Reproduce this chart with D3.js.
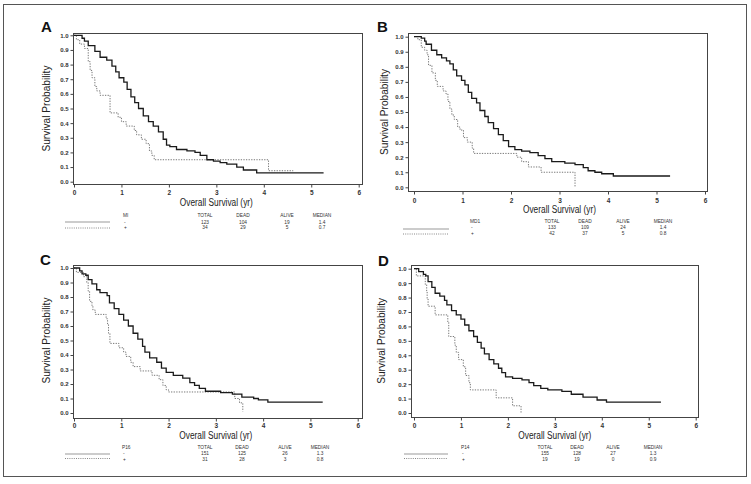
<!DOCTYPE html>
<html><head><meta charset="utf-8">
<script src="https://cdn.jsdelivr.net/npm/d3@7"></script>
<style>
html,body{margin:0;padding:0;background:#fff;}
svg{display:block;font-family:"Liberation Sans",Arial,sans-serif;}
</style></head>
<body><svg id="c" width="751" height="484"></svg>
<script>
// ---- data ----
const panelLetters = ["A","B","C","D"];
const groupLabels = ["MI","MD1","P16","P14"];
const xTicks = [0,1,2,3,4,5,6];
const yTicks = [0,0.1,0.2,0.3,0.4,0.5,0.6,0.7,0.8,0.9,1.0];
const tableHeads = ["TOTAL","DEAD","ALIVE","MEDIAN"];
const rowSigns = ["-","+"];
const statsA = [["123","104","19","1.4"],["34","29","5","0.7"]];
const statsB = [["133","109","24","1.4"],["42","37","5","0.8"]];
const statsC = [["151","125","26","1.3"],["31","28","3","0.8"]];
const statsD = [["155","128","27","1.3"],["19","19","0","0.9"]];
// step drops: [time (yr), survival after drop]
const aNeg = [[0.17,0.98],[0.22,0.96],[0.3,0.93],[0.44,0.89],[0.55,0.85],[0.69,0.83],[0.8,0.79],[0.88,0.75],[0.95,0.71],[1.05,0.68],[1.12,0.63],[1.2,0.58],[1.28,0.54],[1.36,0.50],[1.46,0.45],[1.57,0.41],[1.67,0.38],[1.78,0.34],[1.88,0.29],[1.95,0.25],[2.02,0.24],[2.16,0.22],[2.38,0.21],[2.55,0.20],[2.66,0.18],[2.8,0.15],[2.94,0.14],[3.08,0.13],[3.22,0.12],[3.43,0.10],[3.57,0.08],[3.85,0.06],[5.26,0.06]];
const aPos = [[0.05,0.97],[0.12,0.94],[0.22,0.91],[0.3,0.82],[0.34,0.76],[0.38,0.71],[0.44,0.65],[0.48,0.62],[0.55,0.59],[0.76,0.47],[0.93,0.44],[1.0,0.41],[1.1,0.38],[1.27,0.35],[1.32,0.32],[1.42,0.29],[1.52,0.26],[1.59,0.21],[1.64,0.18],[1.69,0.15],[4.1,0.075],[4.62,0.075]];
const bNeg = [[0.15,0.99],[0.22,0.97],[0.25,0.95],[0.36,0.91],[0.47,0.88],[0.57,0.86],[0.67,0.84],[0.74,0.82],[0.81,0.78],[0.88,0.74],[0.98,0.71],[1.05,0.68],[1.12,0.63],[1.19,0.59],[1.29,0.56],[1.36,0.51],[1.46,0.47],[1.53,0.43],[1.64,0.39],[1.74,0.35],[1.84,0.31],[1.95,0.27],[2.08,0.25],[2.22,0.24],[2.39,0.23],[2.56,0.21],[2.7,0.19],[2.84,0.17],[3.11,0.16],[3.32,0.15],[3.49,0.13],[3.59,0.11],[3.73,0.10],[3.87,0.09],[4.11,0.075],[5.28,0.075]];
const bPos = [[0.08,0.98],[0.15,0.93],[0.22,0.91],[0.27,0.88],[0.3,0.81],[0.37,0.76],[0.44,0.71],[0.48,0.67],[0.6,0.64],[0.66,0.62],[0.7,0.57],[0.74,0.52],[0.78,0.48],[0.83,0.45],[0.9,0.40],[0.95,0.38],[1.02,0.33],[1.1,0.30],[1.2,0.26],[1.23,0.225],[2.12,0.20],[2.22,0.17],[2.36,0.135],[2.62,0.10],[3.32,0.0]];
const cNeg = [[0.12,0.98],[0.17,0.96],[0.25,0.95],[0.3,0.92],[0.38,0.89],[0.48,0.85],[0.55,0.83],[0.7,0.81],[0.75,0.76],[0.85,0.72],[0.95,0.68],[1.05,0.64],[1.15,0.60],[1.25,0.55],[1.35,0.51],[1.45,0.46],[1.5,0.42],[1.6,0.38],[1.75,0.35],[1.85,0.31],[1.95,0.28],[2.1,0.26],[2.3,0.24],[2.45,0.21],[2.55,0.19],[2.65,0.17],[2.78,0.15],[3.1,0.14],[3.35,0.13],[3.55,0.11],[3.8,0.10],[3.9,0.09],[4.1,0.075],[5.26,0.075]];
const cPos = [[0.05,0.97],[0.2,0.94],[0.27,0.90],[0.3,0.84],[0.33,0.77],[0.38,0.74],[0.4,0.71],[0.45,0.68],[0.68,0.65],[0.71,0.61],[0.73,0.55],[0.76,0.48],[0.95,0.45],[1.05,0.42],[1.1,0.39],[1.2,0.35],[1.25,0.32],[1.4,0.29],[1.65,0.26],[1.8,0.23],[1.88,0.19],[1.95,0.16],[2.0,0.145],[3.4,0.10],[3.5,0.07],[3.57,0.01]];
const dNeg = [[0.1,0.98],[0.2,0.96],[0.25,0.95],[0.3,0.91],[0.38,0.87],[0.45,0.83],[0.55,0.81],[0.65,0.78],[0.7,0.75],[0.8,0.71],[0.9,0.68],[1.0,0.65],[1.08,0.61],[1.17,0.57],[1.27,0.53],[1.35,0.49],[1.43,0.45],[1.5,0.41],[1.6,0.37],[1.7,0.34],[1.8,0.31],[1.87,0.28],[1.95,0.25],[2.1,0.24],[2.3,0.23],[2.45,0.21],[2.55,0.19],[2.7,0.17],[2.85,0.16],[3.15,0.15],[3.35,0.13],[3.6,0.11],[3.9,0.09],[4.1,0.075],[5.26,0.075]];
const dPos = [[0.05,0.95],[0.24,0.89],[0.27,0.84],[0.28,0.79],[0.3,0.74],[0.45,0.68],[0.72,0.63],[0.74,0.53],[0.87,0.47],[0.9,0.42],[0.95,0.37],[1.05,0.32],[1.1,0.26],[1.17,0.21],[1.2,0.16],[1.75,0.105],[2.1,0.05],[2.28,0.0]];

const negCurves = [aNeg,bNeg,cNeg,dNeg];
const posCurves = [aPos,bPos,cPos,dPos];
const statTables = [statsA,statsB,statsC,statsD];

// ---- layout ----
const layouts = [
 {box:[73,33,362,184], xr:[74,358.7], yr:[181.7,35.3], letter:[41,32], ytitleX:46, xtickY:195, xtitleY:206,
  leg:{x0:65,x1:110,hy:217,r1:223.5,r2:229,l1:222,l2:228,lab:123,cols:[205,243,287,322]}},
 {box:[408,33,707,191], xr:[414,705], yr:[187.3,36.7], letter:[377,32], ytitleX:384, xtickY:203, xtitleY:213,
  leg:{x0:403,x1:449,hy:222.5,r1:229,r2:234.5,l1:229,l2:234,lab:470,cols:[552,585,623,663]}},
 {box:[73,265,362,418], xr:[74,357.7], yr:[413,268], letter:[40,265], ytitleX:46, xtickY:428, xtitleY:439,
  leg:{x0:65,x1:110,hy:449,r1:455,r2:460.5,l1:454,l2:458.5,lab:122,cols:[205,242,285,320]}},
 {box:[411,265,698,417], xr:[414,695.7], yr:[413,268.7], letter:[378,266], ytitleX:381, xtickY:428, xtitleY:439,
  leg:{x0:404,x1:448,hy:449,r1:455,r2:460.5,l1:454,l2:458.5,lab:461,cols:[545,577,613,653]}}
];

const svg = d3.select("#c");
svg.append("rect").attr("x",3.5).attr("y",4.5).attr("width",743).attr("height",472)
  .attr("fill","none").attr("stroke","#555").attr("stroke-width",1);

layouts.forEach((L,i)=>{
  const g = svg.append("g");
  const x = d3.scaleLinear().domain([0,6]).range(L.xr);
  const y = d3.scaleLinear().domain([0,1]).range(L.yr);
  const [bx0,by0,bx1,by1] = L.box;
  g.append("rect").attr("x",bx0+0.5).attr("y",by0+0.5).attr("width",bx1-bx0).attr("height",by1-by0)
    .attr("fill","none").attr("stroke","#444").attr("stroke-width",1);
  // x axis
  const xa = g.append("g").attr("transform",`translate(0,${by1+0.5})`)
    .call(d3.axisBottom(x).tickValues(xTicks).tickSize(3).tickFormat(d3.format("d")));
  xa.select(".domain").remove();
  xa.selectAll("line").attr("stroke","#444");
  xa.selectAll("text").attr("y",L.xtickY-by1-0.5).attr("dy",null)
    .attr("font-size",6.5).attr("font-weight","bold").attr("fill","#333").attr("font-family","Liberation Sans, Arial, sans-serif");
  // y axis
  const ya = g.append("g").attr("transform",`translate(${bx0+0.5},0)`)
    .call(d3.axisLeft(y).tickValues(yTicks).tickSize(3).tickFormat(d3.format(".1f")));
  ya.select(".domain").remove();
  ya.selectAll("line").attr("stroke","#444");
  ya.selectAll("text").attr("x",-5).attr("font-size",6).attr("font-weight","bold").attr("fill","#333")
    .attr("font-family","Liberation Sans, Arial, sans-serif");
  // titles
  g.append("text").attr("x",L.letter[0]).attr("y",L.letter[1]).text(panelLetters[i])
    .attr("font-size",15).attr("font-weight","bold").attr("fill","#111");
  g.append("text").attr("transform",`translate(${L.ytitleX},${(L.yr[0]+L.yr[1])/2}) rotate(-90)`)
    .attr("text-anchor","middle").attr("dy","0.35em").attr("font-size",10)
    .attr("textLength",86).attr("lengthAdjust","spacingAndGlyphs").attr("fill","#222").text("Survival Probability");
  g.append("text").attr("x",(L.xr[0]+L.xr[1])/2).attr("y",L.xtitleY).attr("text-anchor","middle")
    .attr("font-size",10).attr("textLength",73).attr("lengthAdjust","spacingAndGlyphs")
    .attr("fill","#222").text("Overall Survival (yr)");
  // curves
  const line = d3.line().x(d=>x(d[0])).y(d=>y(d[1])).curve(d3.curveStepAfter);
  g.append("path").datum([[0,1]].concat(posCurves[i])).attr("d",line)
    .attr("fill","none").attr("stroke","#777").attr("stroke-width",1).attr("stroke-dasharray","1.3,1.3");
  g.append("path").datum([[0,1]].concat(negCurves[i])).attr("d",line)
    .attr("fill","none").attr("stroke","#1a1a1a").attr("stroke-width",1.3);
  // legend table
  const lg = L.leg;
  const lf = "Liberation Sans Narrow, Arial Narrow, Liberation Sans, sans-serif";
  g.append("line").attr("x1",lg.x0).attr("x2",lg.x1).attr("y1",lg.l1).attr("y2",lg.l1)
    .attr("stroke","#999").attr("stroke-width",1);
  g.append("line").attr("x1",lg.x0).attr("x2",lg.x1).attr("y1",lg.l2).attr("y2",lg.l2)
    .attr("stroke","#888").attr("stroke-width",1).attr("stroke-dasharray","1,1.2");
  const tf = (sel)=>sel.attr("font-size",4.8).attr("font-family",lf).attr("fill","#333");
  tf(g.append("text").attr("x",lg.lab).attr("y",lg.hy).text(groupLabels[i]));
  tableHeads.forEach((h,j)=>{
    tf(g.append("text").attr("x",lg.cols[j]).attr("y",lg.hy).attr("text-anchor","middle").text(h));
  });
  rowSigns.forEach((s,r)=>{
    const yy = r===0?lg.r1:lg.r2;
    tf(g.append("text").attr("x",lg.lab+1).attr("y",yy).text(s));
    statTables[i][r].forEach((v,j)=>{
      tf(g.append("text").attr("x",lg.cols[j]).attr("y",yy).attr("text-anchor","middle").text(v));
    });
  });
});
</script></body></html>
